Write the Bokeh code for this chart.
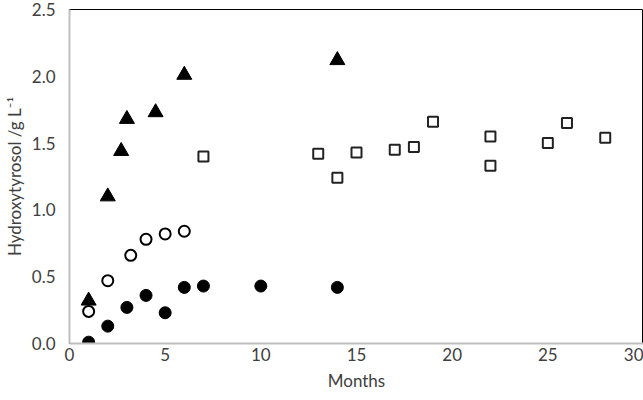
from bokeh.plotting import figure
from bokeh.models import FixedTicker, NumeralTickFormatter, Range1d
from bokeh.embed import file_html
from bokeh.resources import INLINE

# Filled triangles
tri_x = [1, 2, 2.7, 3, 4.5, 6, 14]
tri_y = [0.32, 1.10, 1.44, 1.68, 1.73, 2.01, 2.12]
# Open circles
oc_x = [1, 2, 3.2, 4, 5, 6]
oc_y = [0.24, 0.47, 0.66, 0.78, 0.82, 0.84]
# Filled circles
fc_x = [1, 2, 3, 4, 5, 6, 7, 10, 14]
fc_y = [0.01, 0.13, 0.27, 0.36, 0.23, 0.42, 0.43, 0.43, 0.42]
# Open squares
sq_x = [7, 13, 14, 15, 17, 18, 19, 22, 22, 25, 26, 28]
sq_y = [1.40, 1.42, 1.24, 1.43, 1.45, 1.47, 1.66, 1.55, 1.33, 1.50, 1.65, 1.54]

x_ticks = [0, 5, 10, 15, 20, 25, 30]
y_ticks = [0.0, 0.5, 1.0, 1.5, 2.0, 2.5]

FONT = "Lato"

p = figure(width=643, height=400, output_backend="svg", toolbar_location=None,
           x_range=Range1d(0, 30), y_range=Range1d(0, 2.5),
           min_border_left=68, min_border_right=0, min_border_top=9, min_border_bottom=57)

p.xgrid.visible = False
p.ygrid.visible = False
p.outline_line_color = "black"
p.outline_line_width = 1

for ax in (p.xaxis[0], p.yaxis[0]):
    ax.axis_line_color = "#BFBFBF"
    ax.axis_line_width = 2
    ax.major_tick_line_color = None
    ax.minor_tick_line_color = None
    ax.major_tick_out = 0
    ax.major_tick_in = 0
    ax.minor_tick_out = 0
    ax.minor_tick_in = 0
    ax.major_label_text_font = FONT
    ax.major_label_text_font_size = "17px"
    ax.major_label_text_color = "#404040"
    ax.axis_label_text_font = FONT
    ax.axis_label_text_font_size = "17px"
    ax.axis_label_text_font_style = "normal"
    ax.axis_label_text_color = "#404040"

p.xaxis.ticker = FixedTicker(ticks=x_ticks)
p.yaxis.ticker = FixedTicker(ticks=y_ticks)
p.yaxis.formatter = NumeralTickFormatter(format="0.0")
p.xaxis.major_label_standoff = 4
p.yaxis.major_label_standoff = 14
p.xaxis.axis_label = "Months"
p.yaxis.axis_label = "Hydroxytyrosol /g L\u207b\u00b9"
p.xaxis.axis_label_standoff = 6
p.yaxis.axis_label_standoff = 4

p.scatter(fc_x, fc_y, marker="circle", size=12, fill_color="black", line_color="black")
p.scatter(oc_x, oc_y, marker="circle", size=11, fill_color="white", line_color="black", line_width=2)
p.scatter(sq_x, sq_y, marker="square", size=10, fill_color="white", line_color="#222222", line_width=2)
p.scatter(tri_x, tri_y, marker="triangle", size=15, fill_color="black", line_color="black")

open("out.html", "w").write(file_html(p, INLINE))
